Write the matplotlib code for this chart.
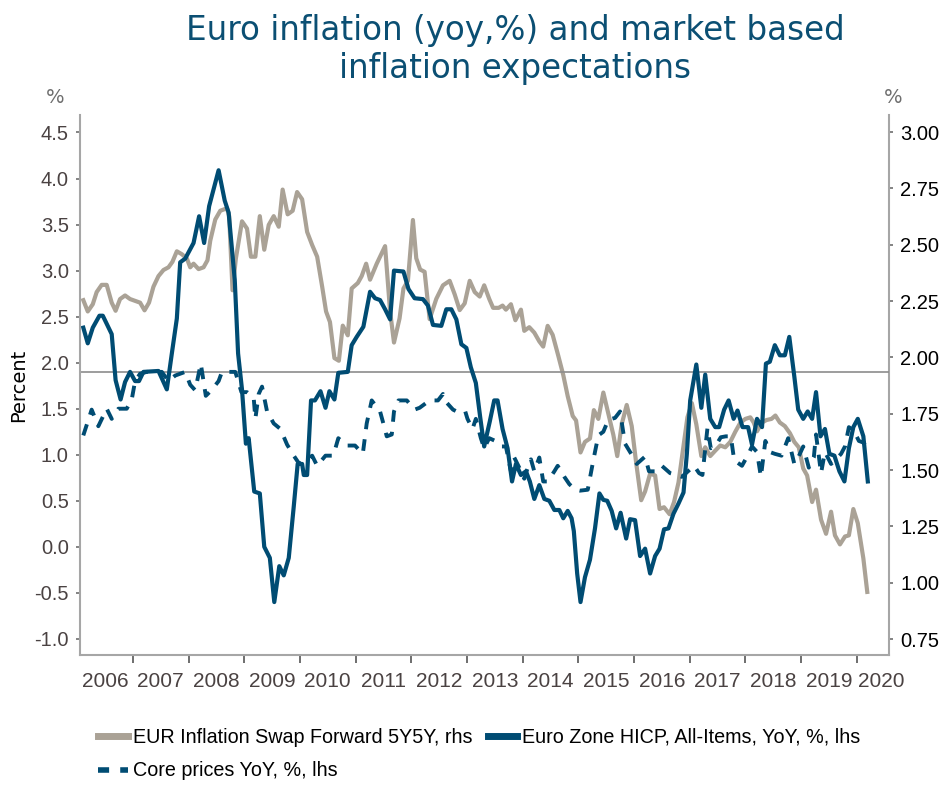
#!/usr/bin/env python
# coding: utf-8

import matplotlib
matplotlib.use('Agg')
import matplotlib.pyplot as plt
from matplotlib.lines import Line2D

# --- data (decimal years) ---
hicp_t = [2006.11, 2006.19, 2006.28, 2006.40, 2006.46, 2006.62, 2006.69, 2006.78, 2006.86, 2006.95,
          2007.04, 2007.11, 2007.19, 2007.46, 2007.61, 2007.70, 2007.79, 2007.85, 2007.94, 2008.09,
          2008.19, 2008.28, 2008.37, 2008.54, 2008.65, 2008.72, 2008.83, 2008.89, 2008.96, 2009.03,
          2009.08, 2009.18, 2009.28, 2009.36, 2009.46, 2009.54, 2009.63, 2009.71, 2009.80, 2009.89,
          2009.96, 2010.04, 2010.07, 2010.13, 2010.20, 2010.27, 2010.37, 2010.46, 2010.53, 2010.62,
          2010.69, 2010.86, 2010.93, 2011.02, 2011.14, 2011.26, 2011.35, 2011.44, 2011.53, 2011.62,
          2011.69, 2011.86, 2011.95, 2012.06, 2012.21, 2012.30, 2012.39, 2012.54, 2012.63, 2012.72,
          2012.81, 2012.90, 2012.99, 2013.07, 2013.16, 2013.24, 2013.31, 2013.41, 2013.49, 2013.55,
          2013.64, 2013.73, 2013.81, 2013.88, 2013.97, 2014.06, 2014.13, 2014.21, 2014.30, 2014.39,
          2014.48, 2014.57, 2014.66, 2014.73, 2014.81, 2014.88, 2014.92, 2014.98, 2015.04, 2015.12,
          2015.21, 2015.30, 2015.38, 2015.45, 2015.52, 2015.60, 2015.68, 2015.76, 2015.86, 2015.93,
          2016.02, 2016.11, 2016.20, 2016.29, 2016.38, 2016.46, 2016.54, 2016.62, 2016.71, 2016.80,
          2016.89, 2016.95, 2017.01, 2017.12, 2017.21, 2017.28, 2017.37, 2017.46, 2017.53, 2017.62,
          2017.70, 2017.79, 2017.86, 2017.95, 2018.05, 2018.12, 2018.21, 2018.30, 2018.37, 2018.44,
          2018.53, 2018.62, 2018.71, 2018.79, 2018.88, 2018.95, 2019.04, 2019.12, 2019.20, 2019.27,
          2019.35, 2019.43, 2019.51, 2019.60, 2019.69, 2019.78, 2019.86, 2019.94, 2020.02, 2020.12,
          2020.20]
hicp_v = [2.38, 2.21, 2.38, 2.51, 2.51, 2.31, 1.81, 1.60, 1.79, 1.90,
          1.80, 1.80, 1.90, 1.91, 1.71, 2.10, 2.48, 3.09, 3.13, 3.30,
          3.59, 3.30, 3.70, 4.09, 3.76, 3.63, 2.90, 2.10, 1.71, 1.12,
          1.18, 0.60, 0.58, 0.00, -0.12, -0.60, -0.21, -0.31, -0.12, 0.44,
          0.90, 0.90, 0.78, 0.78, 1.59, 1.59, 1.69, 1.51, 1.69, 1.60,
          1.89, 1.90, 2.19, 2.28, 2.39, 2.77, 2.70, 2.68, 2.58, 2.47,
          3.00, 2.99, 2.80, 2.70, 2.69, 2.62, 2.41, 2.40, 2.58, 2.58,
          2.47, 2.20, 2.16, 1.95, 1.78, 1.40, 1.09, 1.36, 1.59, 1.59,
          1.28, 1.07, 0.71, 0.90, 0.78, 0.82, 0.71, 0.52, 0.67, 0.52,
          0.50, 0.40, 0.40, 0.31, 0.39, 0.31, 0.17, -0.29, -0.60, -0.33,
          -0.14, 0.20, 0.58, 0.51, 0.50, 0.39, 0.20, 0.37, 0.09, 0.30,
          0.29, -0.10, -0.02, -0.29, -0.10, -0.02, 0.19, 0.20, 0.36, 0.47,
          0.59, 1.01, 1.59, 1.98, 1.51, 1.87, 1.39, 1.30, 1.30, 1.49,
          1.59, 1.39, 1.48, 1.30, 1.30, 1.11, 1.39, 1.30, 1.99, 2.01,
          2.19, 2.08, 2.08, 2.28, 1.85, 1.49, 1.39, 1.47, 1.39, 1.68,
          1.20, 1.28, 1.01, 0.99, 0.82, 0.71, 1.07, 1.30, 1.39, 1.20,
          0.71]

core_t = [2006.11, 2006.26, 2006.38, 2006.53, 2006.62, 2006.74, 2006.89, 2006.98, 2007.04, 2007.13,
          2007.25, 2007.52, 2007.64, 2007.76, 2007.94, 2008.03, 2008.12, 2008.22, 2008.31, 2008.41,
          2008.54, 2008.60, 2008.84, 2008.95, 2009.05, 2009.17, 2009.20, 2009.26, 2009.32, 2009.41,
          2009.53, 2009.65, 2009.77, 2009.89, 2009.99, 2010.10, 2010.22, 2010.31, 2010.46, 2010.60,
          2010.69, 2010.84, 2010.99, 2011.13, 2011.20, 2011.29, 2011.44, 2011.49, 2011.56, 2011.65,
          2011.69, 2011.77, 2011.92, 2012.06, 2012.15, 2012.33, 2012.48, 2012.57, 2012.63, 2012.75,
          2012.85, 2012.97, 2013.01, 2013.10, 2013.16, 2013.25, 2013.31, 2013.40, 2013.51, 2013.61,
          2013.70, 2013.79, 2013.85, 2013.94, 2014.03, 2014.07, 2014.15, 2014.21, 2014.30, 2014.37,
          2014.45, 2014.57, 2014.63, 2014.75, 2014.84, 2014.95, 2015.03, 2015.17, 2015.27, 2015.36,
          2015.45, 2015.54, 2015.66, 2015.75, 2015.84, 2015.96, 2016.05, 2016.20, 2016.27, 2016.41,
          2016.50, 2016.65, 2016.77, 2016.86, 2017.08, 2017.17, 2017.23, 2017.32, 2017.38, 2017.47,
          2017.56, 2017.65, 2017.74, 2017.80, 2017.94, 2018.05, 2018.12, 2018.21, 2018.28, 2018.36,
          2018.44, 2018.53, 2018.65, 2018.77, 2018.88, 2018.95, 2019.04, 2019.14, 2019.23, 2019.27,
          2019.36, 2019.43, 2019.54, 2019.63, 2019.72, 2019.79, 2019.86, 2019.95, 2020.04, 2020.13,
          2020.19]
core_v = [1.21, 1.49, 1.31, 1.50, 1.39, 1.50, 1.50, 1.60, 1.80, 1.88,
          1.90, 1.90, 1.80, 1.86, 1.90, 1.76, 1.70, 1.99, 1.64, 1.70,
          1.80, 1.90, 1.90, 1.68, 1.68, 1.62, 1.39, 1.66, 1.74, 1.47,
          1.34, 1.28, 1.11, 0.99, 0.90, 0.93, 0.99, 0.88, 0.99, 0.99,
          1.18, 1.10, 1.10, 1.01, 1.34, 1.59, 1.47, 1.36, 1.20, 1.22,
          1.47, 1.59, 1.59, 1.49, 1.51, 1.59, 1.59, 1.66, 1.57, 1.49,
          1.46, 1.47, 1.39, 1.28, 1.39, 1.18, 1.07, 1.18, 1.15, 1.09,
          1.09, 0.82, 0.97, 0.86, 0.74, 0.82, 0.95, 0.82, 0.97, 0.71,
          0.71, 0.82, 0.88, 0.76, 0.68, 0.62, 0.61, 0.62, 0.94, 1.21,
          1.25, 1.38, 1.40, 1.47, 1.12, 1.00, 0.90, 0.98, 0.82, 0.82,
          0.88, 0.80, 0.78, 0.76, 0.88, 0.80, 0.78, 1.29, 1.07, 1.10,
          1.19, 1.20, 1.20, 0.94, 0.88, 1.00, 1.09, 1.03, 0.76, 1.15,
          1.03, 1.01, 0.99, 1.18, 0.90, 0.97, 1.09, 0.86, 0.97, 1.22,
          0.80, 1.03, 0.90, 0.95, 1.01, 1.09, 1.30, 1.26, 1.15, 1.13,
          1.03]

swap_t = [2006.11, 2006.19, 2006.28, 2006.35, 2006.44, 2006.53, 2006.62, 2006.69, 2006.77, 2006.86,
          2006.95, 2007.04, 2007.13, 2007.21, 2007.29, 2007.37, 2007.46, 2007.55, 2007.64, 2007.71,
          2007.79, 2007.88, 2007.97, 2008.03, 2008.09, 2008.18, 2008.27, 2008.34, 2008.39, 2008.48,
          2008.57, 2008.69, 2008.73, 2008.79, 2008.85, 2008.96, 2009.05, 2009.12, 2009.20, 2009.28,
          2009.36, 2009.44, 2009.53, 2009.62, 2009.69, 2009.78, 2009.87, 2009.95, 2010.04, 2010.13,
          2010.22, 2010.31, 2010.40, 2010.47, 2010.54, 2010.62, 2010.70, 2010.77, 2010.86, 2010.93,
          2011.04, 2011.11, 2011.19, 2011.26, 2011.38, 2011.53, 2011.62, 2011.69, 2011.79, 2011.86,
          2011.94, 2012.03, 2012.09, 2012.16, 2012.24, 2012.33, 2012.45, 2012.57, 2012.69, 2012.78,
          2012.87, 2012.96, 2013.05, 2013.14, 2013.23, 2013.31, 2013.40, 2013.47, 2013.57, 2013.64,
          2013.70, 2013.79, 2013.87, 2013.97, 2014.03, 2014.12, 2014.21, 2014.30, 2014.37, 2014.45,
          2014.54, 2014.64, 2014.73, 2014.81, 2014.90, 2014.96, 2015.04, 2015.12, 2015.21, 2015.28,
          2015.36, 2015.45, 2015.54, 2015.63, 2015.70, 2015.78, 2015.87, 2015.96, 2016.04, 2016.13,
          2016.20, 2016.29, 2016.38, 2016.46, 2016.54, 2016.64, 2016.72, 2016.80, 2016.89, 2016.96,
          2017.04, 2017.12, 2017.21, 2017.28, 2017.37, 2017.46, 2017.55, 2017.64, 2017.73, 2017.82,
          2017.91, 2018.00, 2018.09, 2018.15, 2018.21, 2018.30, 2018.38, 2018.47, 2018.54, 2018.62,
          2018.71, 2018.80, 2018.88, 2018.96, 2019.04, 2019.11, 2019.20, 2019.27, 2019.36, 2019.45,
          2019.54, 2019.61, 2019.70, 2019.79, 2019.86, 2019.94, 2020.02, 2020.12, 2020.19]
swap_v = [2.254, 2.204, 2.236, 2.290, 2.322, 2.322, 2.243, 2.207, 2.259, 2.275,
          2.259, 2.251, 2.243, 2.209, 2.243, 2.314, 2.361, 2.388, 2.400, 2.424,
          2.471, 2.458, 2.439, 2.400, 2.416, 2.392, 2.400, 2.431, 2.518, 2.612,
          2.651, 2.662, 2.627, 2.298, 2.439, 2.604, 2.572, 2.447, 2.447, 2.627,
          2.478, 2.588, 2.627, 2.580, 2.745, 2.635, 2.651, 2.734, 2.702, 2.557,
          2.499, 2.447, 2.314, 2.204, 2.157, 1.997, 1.985, 2.141, 2.098, 2.306,
          2.330, 2.361, 2.416, 2.345, 2.416, 2.494, 2.204, 2.066, 2.173, 2.306,
          2.340, 2.610, 2.440, 2.390, 2.380, 2.170, 2.260, 2.320, 2.340, 2.280,
          2.210, 2.240, 2.340, 2.290, 2.270, 2.320, 2.260, 2.220, 2.220, 2.230,
          2.212, 2.236, 2.165, 2.212, 2.118, 2.134, 2.110, 2.071, 2.048, 2.140,
          2.100, 2.008, 1.922, 1.828, 1.740, 1.720, 1.578, 1.625, 1.640, 1.766,
          1.727, 1.844, 1.750, 1.656, 1.562, 1.703, 1.789, 1.695, 1.531, 1.366,
          1.405, 1.484, 1.476, 1.327, 1.335, 1.304, 1.358, 1.445, 1.609, 1.734,
          1.797, 1.703, 1.562, 1.601, 1.562, 1.586, 1.609, 1.601, 1.625, 1.670,
          1.710, 1.727, 1.734, 1.711, 1.672, 1.711, 1.722, 1.727, 1.742, 1.711,
          1.695, 1.664, 1.625, 1.601, 1.507, 1.476, 1.358, 1.413, 1.280, 1.217,
          1.315, 1.210, 1.170, 1.205, 1.210, 1.327, 1.264, 1.108, 0.959]

ecb_line = 1.9
years = list(range(2006, 2021))
left_ticks = [-1.0, -0.5, 0.0, 0.5, 1.0, 1.5, 2.0, 2.5, 3.0, 3.5, 4.0, 4.5]
right_ticks = [0.75, 1.00, 1.25, 1.50, 1.75, 2.00, 2.25, 2.50, 2.75, 3.00]

# --- style ---
blue = '#004c73'
sand = '#aaa296'
spine_c = '#a6a6a6'
lab_c = '#4a4242'
narrow = ['Liberation Sans', 'DejaVu Sans']
plt.rcParams['axes.unicode_minus'] = False

fig = plt.figure(figsize=(9.43, 7.85), dpi=100)
ax = fig.add_axes([0.0848, 0.1656, 0.8579, 0.6879])
ax2 = ax.twinx()
ax.set_zorder(ax2.get_zorder() + 1)
ax.patch.set_visible(False)

# swap on right axis, drawn behind
ax2.plot(swap_t, swap_v, color=sand, lw=3.0, solid_joinstyle='round')
ax.axhline(ecb_line, color='#8c8c8c', lw=1.2, zorder=1)
ax.plot(core_t, core_v, color=blue, lw=2.8, dashes=(3.0, 2.6))
ax.plot(hicp_t, hicp_v, color=blue, lw=3.0, solid_joinstyle='round')

ax.set_xlim(2006.05, 2020.58)
ax.set_ylim(-1.175, 4.69)
ax2.set_ylim(0.679, 3.076)

for a in (ax, ax2):
    a.spines['top'].set_visible(False)
ax.spines['right'].set_visible(False)
ax2.spines['left'].set_visible(False)
ax2.spines['bottom'].set_visible(False)
for s in ('left', 'bottom'):
    ax.spines[s].set_color(spine_c)
    ax.spines[s].set_linewidth(1.5)
ax2.spines['right'].set_color(spine_c)
ax2.spines['right'].set_linewidth(1.5)

ax.set_yticks(left_ticks)
ax.set_yticklabels(['%.1f' % v for v in left_ticks], family=narrow, fontsize=14.5, color=lab_c)
ax2.set_yticks(right_ticks)
ax2.set_yticklabels(['%.2f' % v for v in right_ticks], family=narrow, fontsize=14.5, color='black')
ax.tick_params(axis='y', direction='out', length=3, width=1.2, color='#6e6e6e', pad=5)
ax2.tick_params(axis='y', direction='out', length=3, width=1.2, color='#6e6e6e', pad=5)

# year boundaries as ticks, labels in between
ax.set_xticks(years[1:])
ax.set_xticklabels([])
lab_pos = [y + 0.5 for y in years[:-1]] + [years[-1] + 0.44]
ax.set_xticks(lab_pos, minor=True)
ax.set_xticklabels([str(y) for y in years], minor=True, family=narrow, fontsize=15, color=lab_c)
ax.tick_params(axis='x', which='major', direction='out', length=6, width=1.2, color='#555555')
ax.tick_params(axis='x', which='minor', length=0, pad=12)

ax.set_ylabel('Percent', fontsize=14)
ax.yaxis.set_label_coords(-0.064, 0.5)

fig.text(0.546, 0.982, 'Euro inflation (yoy,%) and market based\ninflation expectations',
         ha='center', va='top', fontsize=23.5, color='#0b4f73', linespacing=1.2)
fig.text(0.058, 0.876, '%', ha='center', va='center', fontsize=14, color='#6e6e6e')
fig.text(0.947, 0.876, '%', ha='center', va='center', fontsize=14, color='#6e6e6e')

handles = [Line2D([], [], color=sand, lw=5),
           Line2D([], [], color=blue, lw=4, dashes=(2.0, 2.0)),
           Line2D([], [], color=blue, lw=5)]
labels = ['EUR Inflation Swap Forward 5Y5Y, rhs',
          'Core prices YoY, %, lhs',
          'Euro Zone HICP, All-Items, YoY, %, lhs']
fig.legend(handles, labels, ncol=2, loc='upper left', bbox_to_anchor=(0.104, 0.073),
           frameon=False, handlelength=1.5, handletextpad=0.25, columnspacing=0.8,
           labelspacing=0.75, borderaxespad=0, borderpad=0,
           prop={'family': narrow, 'size': 14.2})

plt.savefig('out.png', dpi=100)
